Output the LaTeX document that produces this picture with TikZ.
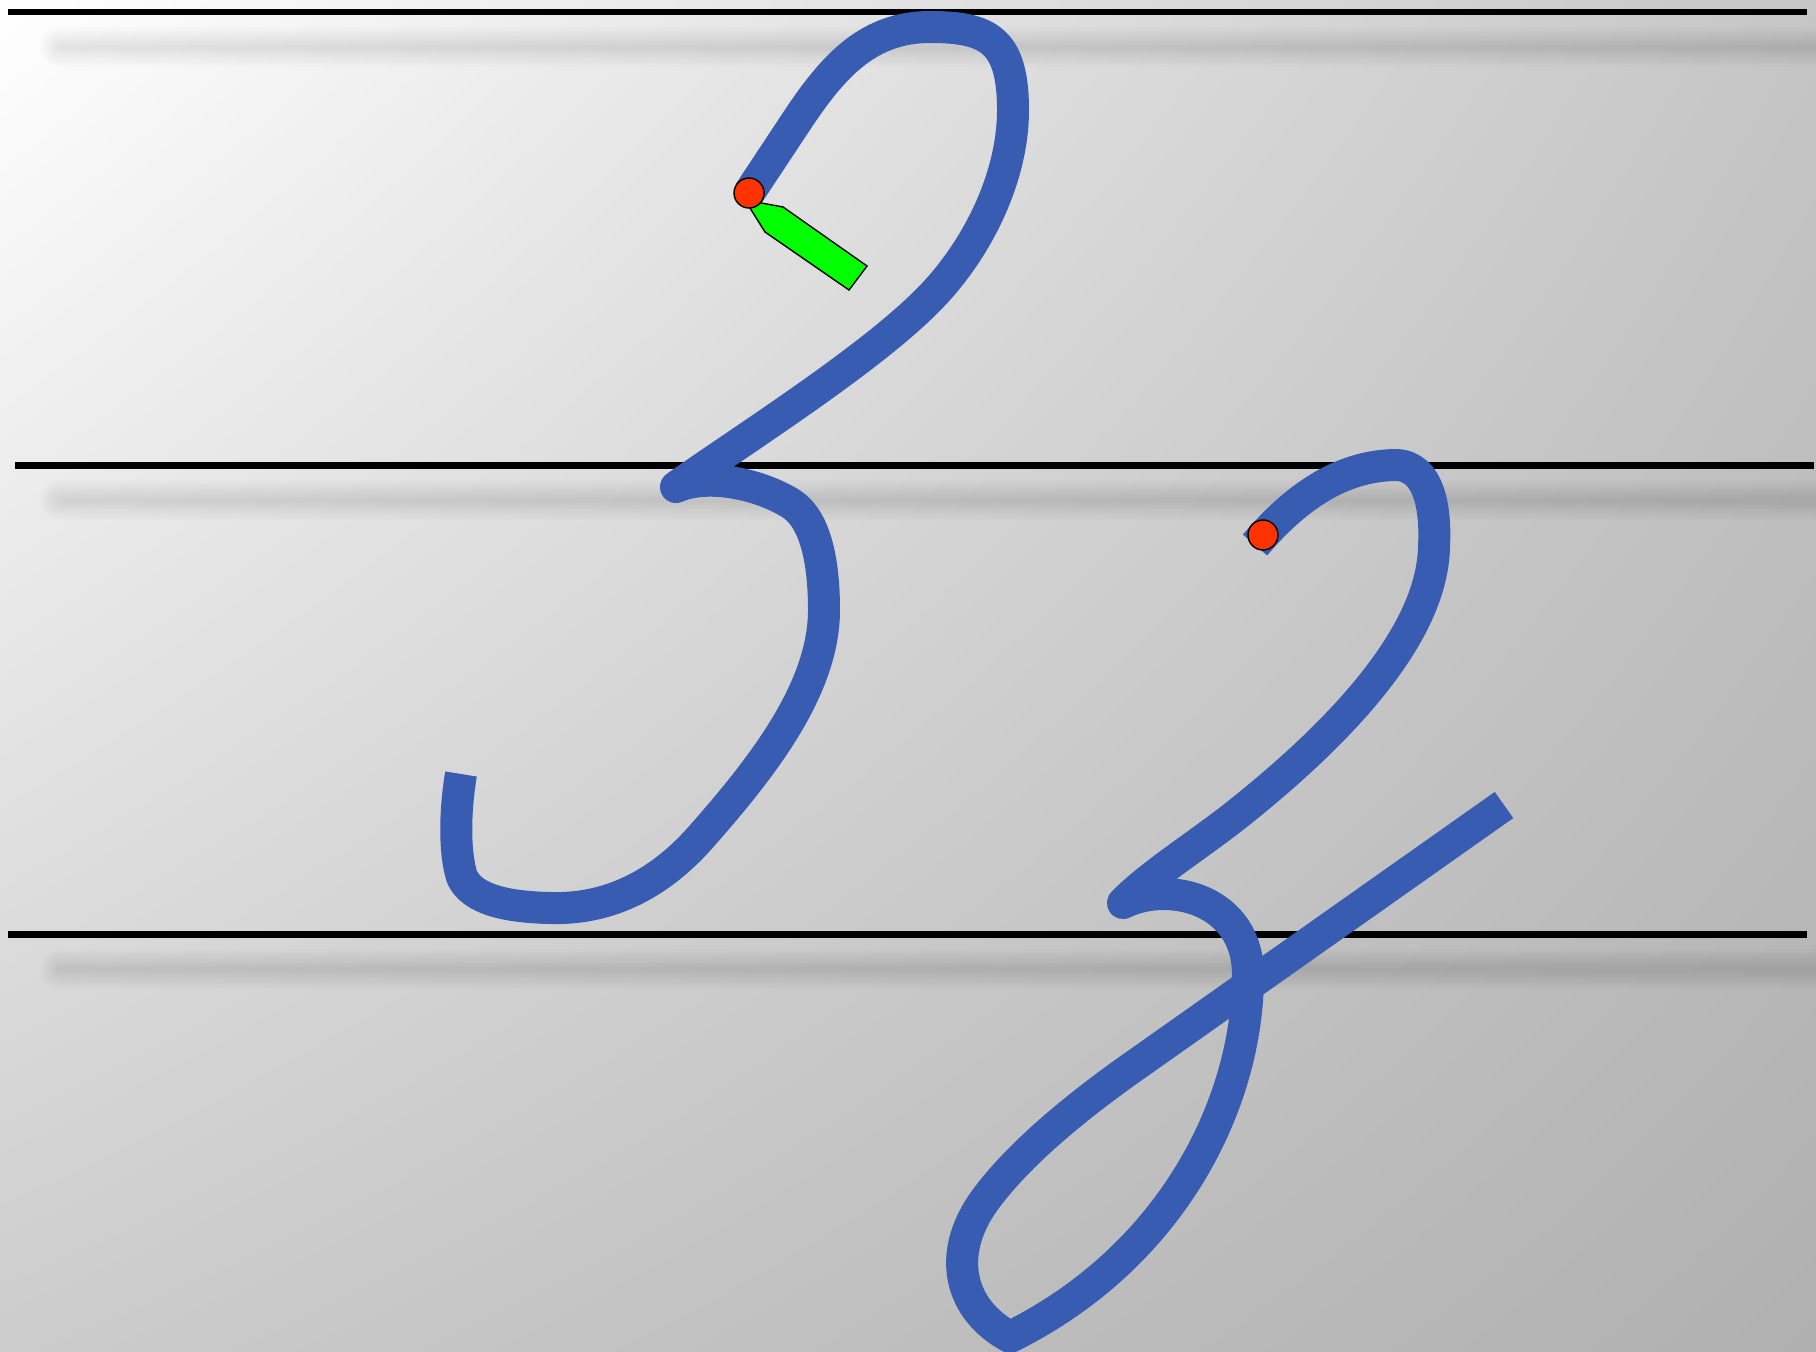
\documentclass[tikz,border=0pt]{standalone}
\usetikzlibrary{shadings}
\definecolor{inkblue}{RGB}{56,92,178}
\definecolor{startred}{RGB}{255,51,0}
\definecolor{arrowgreen}{RGB}{0,255,0}
\tikzset{
  ruleline/.style={line width=0.14cm, black},
  pen/.style={line width=0.64cm, inkblue, line join=round},
  startdot/.style={fill=startred, draw=black, line width=0.8pt},
}
\begin{document}
\begin{tikzpicture}[x=0.02cm, y=-0.02cm]
        % Coordinates
        \coordinate (Zstart) at (749,193);
        \coordinate (Ztop) at (930,27);
        \coordinate (Zright) at (1013,110);
        \coordinate (Zcusp) at (676,487);
        \coordinate (Zshoulder) at (790,503);
        \coordinate (Zbelly) at (824,610);
        \coordinate (Zbottom) at (550,908);
        \coordinate (Zend) at (461,774);
        \coordinate (zdot) at (1263,535);
        \coordinate (zstart) at (1255,545);
        \coordinate (ztop) at (1395,465);
        \coordinate (zright) at (1434,547);
        \coordinate (zcusp) at (1123,903);
        \coordinate (zbelly) at (1248,975);
        \coordinate (zloop) at (1010,1337);
        \coordinate (zcross) at (1137,1064);
        \coordinate (zend) at (1504,805);

        % Background
        \useasboundingbox (0,0) rectangle (1816,1352);
        \shade[upper left=white, upper right=gray!45, lower left=gray!40, lower right=gray!62]
            (0,0) rectangle (1816,1352);
        \begin{scope}
            \clip (0,0) rectangle (1816,1352);
            \foreach \yy in {47,500,969}
                \foreach \w in {0.1cm,0.2cm,0.3cm,0.4cm,0.5cm,0.6cm,0.7cm,0.8cm}
                    \draw[line width=\w, black, opacity=0.011, line cap=round] (60,\yy) -- (1840,\yy);
        \end{scope}

        % Rules
        \draw[ruleline] (8,12) -- (1807,12);
        \draw[ruleline] (15,465.5) -- (1814,465.5);
        \draw[ruleline] (8,934) -- (1807,934);

        % Capital letter
        \draw[pen] (Zstart) -- (800,116) .. controls (835,64) and (870,27) .. (Ztop)
            .. controls (988,27) and (1013,40) .. (Zright)
            .. controls (1013,180) and (975,252) .. (930,298)
            .. controls (870,360) and (736,444) .. (Zcusp)
            .. controls (705,474) and (755,482) .. (Zshoulder)
            .. controls (815,518) and (824,560) .. (Zbelly)
            .. controls (824,690) and (760,770) .. (700,838)
            .. controls (660,883) and (610,910) .. (Zbottom)
            .. controls (505,907) and (472,899) .. (462,877)
            .. controls (454,852) and (455,810) .. (Zend);

        % Small letter
        \draw[pen] (zstart) .. controls (1295,498) and (1340,466) .. (ztop)
            .. controls (1430,465) and (1436,510) .. (zright)
            .. controls (1432,640) and (1330,740) .. (1240,812)
            .. controls (1200,844) and (1150,875) .. (zcusp)
            .. controls (1170,880) and (1248,900) .. (zbelly)
            .. controls (1248,1100) and (1175,1255) .. (zloop)
            .. controls (960,1310) and (945,1255) .. (985,1200)
            .. controls (1015,1159) and (1067,1113) .. (zcross) -- (zend);

        % Start marks
        \draw[fill=arrowgreen, line width=0.8pt] (745,200) -- (783,207) -- (867,266) -- (849,290)
            -- (765,232) -- cycle;
        \draw[startdot] (Zstart) circle (15);
        \draw[startdot] (zdot) circle (15);
    \end{tikzpicture}
\end{document}
